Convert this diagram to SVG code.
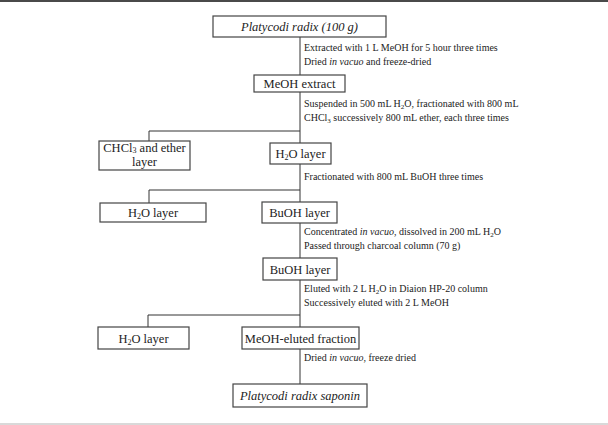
<svg xmlns="http://www.w3.org/2000/svg" width="608" height="425" viewBox="0 0 608 425">
<style>
.box{fill:#fff;stroke:#444;stroke-width:1.2}
.bt{font-family:"Liberation Serif","Times New Roman",serif;font-size:12.5px;fill:#222;text-anchor:middle}
.it{font-style:italic}
.note{font-family:"Liberation Serif","Times New Roman",serif;font-size:10px;fill:#222}
.con{fill:none;stroke:#333;stroke-width:1}
</style>
<rect x="0" y="0" width="608" height="425" fill="#fff"/>
<rect x="0" y="0" width="608" height="2" fill="#4a4a4a"/>
<rect x="0" y="423" width="608" height="2" fill="#d9d9d9"/>
<g id="connectors">
<line class="con" x1="300" y1="37" x2="300" y2="75"/>
<polyline class="con" points="300,92 300,143"/>
<polyline class="con" points="300,131 149,131 149,141"/>
<polyline class="con" points="300,164 300,202"/>
<polyline class="con" points="300,190 149,190 149,203"/>
<line class="con" x1="300" y1="223" x2="300" y2="258"/>
<polyline class="con" points="300,280 300,327"/>
<polyline class="con" points="300,315 148,315 148,327"/>
<line class="con" x1="300" y1="349" x2="300" y2="384"/>
</g>
<g id="notes">
<text class="note" x="304" y="51">Extracted with 1 L MeOH for 5 hour three times</text>
<text class="note" x="304" y="65">Dried <tspan class="it">in vacuo</tspan> and freeze-dried</text>
<text class="note" x="304" y="107">Suspended in 500 mL H<tspan font-size="7" dy="2">2</tspan><tspan dy="-2">O, fractionated with 800 mL</tspan></text>
<text class="note" x="304" y="121">CHCl<tspan font-size="7" dy="2">3</tspan><tspan dy="-2"> successively 800 mL ether, each three times</tspan></text>
<text class="note" x="304" y="180">Fractionated with 800 mL BuOH three times</text>
<text class="note" x="304" y="235">Concentrated <tspan class="it">in vacuo</tspan>, dissolved in 200 mL H<tspan font-size="7" dy="2">2</tspan><tspan dy="-2">O</tspan></text>
<text class="note" x="304" y="249">Passed through charcoal column (70 g)</text>
<text class="note" x="304" y="292">Eluted with 2 L H<tspan font-size="7" dy="2">2</tspan><tspan dy="-2">O in Diaion HP-20 column</tspan></text>
<text class="note" x="304" y="306">Successively eluted with 2 L MeOH</text>
<text class="note" x="304" y="361">Dried <tspan class="it">in vacuo</tspan>, freeze dried</text>
</g>
<g id="n1"><rect class="box" x="213" y="16" width="173" height="21"/><text class="bt it" x="299.5" y="31">Platycodi radix (100 g)</text></g>
<g id="n2"><rect class="box" x="254" y="75" width="91" height="17"/><text class="bt" x="299.5" y="88">MeOH extract</text></g>
<g id="n3"><rect class="box" x="99" y="141" width="91" height="29"/><text class="bt" x="144.5" y="152">CHCl<tspan font-size="8" dy="1">3</tspan><tspan dy="-1"> and ether</tspan></text><text class="bt" x="144.5" y="166">layer</text></g>
<g id="n4"><rect class="box" x="270" y="143" width="61" height="21"/><text class="bt" x="300.5" y="158">H<tspan font-size="8" dy="2">2</tspan><tspan dy="-2">O layer</tspan></text></g>
<g id="n5"><rect class="box" x="100" y="203" width="106" height="19"/><text class="bt" x="153" y="217">H<tspan font-size="8" dy="2">2</tspan><tspan dy="-2">O layer</tspan></text></g>
<g id="n6"><rect class="box" x="262" y="202" width="75" height="21"/><text class="bt" x="299.5" y="217">BuOH layer</text></g>
<g id="n7"><rect class="box" x="263" y="258" width="74" height="22"/><text class="bt" x="300" y="274">BuOH layer</text></g>
<g id="n8"><rect class="box" x="98" y="327" width="91" height="22"/><text class="bt" x="143.5" y="343">H<tspan font-size="8" dy="2">2</tspan><tspan dy="-2">O layer</tspan></text></g>
<g id="n9"><rect class="box" x="242" y="327" width="117" height="22"/><text class="bt" x="300.5" y="343">MeOH-eluted fraction</text></g>
<g id="n10"><rect class="box" x="233" y="384" width="134" height="23"/><text class="bt it" x="300" y="400">Platycodi radix saponin</text></g>
</svg>
